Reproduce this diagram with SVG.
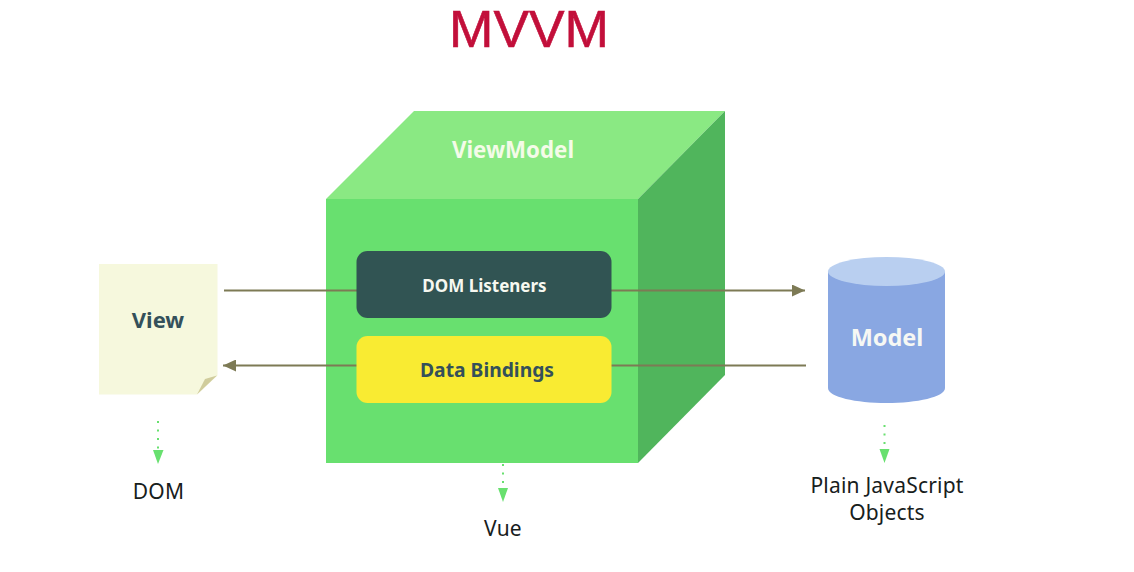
<svg xmlns="http://www.w3.org/2000/svg" width="1134" height="572" viewBox="0 0 1134 572">
<defs>
<marker id="olive" markerUnits="userSpaceOnUse" markerWidth="13" markerHeight="12" refX="13" refY="6" orient="auto"><path d="M0 0L13 6L0 12Z" fill="#7d7a55"/></marker>
</defs>
<style>
text{font-family:"Noto Sans","Open Sans",sans-serif;text-anchor:middle}
.b{font-weight:700}
.l{font-size:21px;fill:#17201c;letter-spacing:.2px}
.c{fill:none;stroke:#7d7a55;stroke-width:2}
.d{fill:none;stroke:#68e06f;stroke-width:2;stroke-dasharray:2 6.500}
.h{fill:#68e06f}
</style>
<rect width="1134" height="572" fill="#fff"/>
<text x="529" y="46.500" style="font-family:'Liberation Sans',sans-serif;font-size:52px;fill:#c20f3a;stroke:#c20f3a;stroke-width:.6" textLength="160" lengthAdjust="spacingAndGlyphs">MVVM</text>
<g id="viewmodel">
<path d="M326 199L414 111H725L638 199Z" fill="#8ae983"/>
<path d="M638 199L725 111V375L638 463Z" fill="#50b55c"/>
<rect x="326" y="199" width="312" height="264" fill="#68e06f"/>
<text class="b" x="513" y="157.500" font-size="22.300" fill="#f4fbe8">ViewModel</text>
</g>
<g id="connectors">
<path class="c" d="M224 290.500H357"/>
<path class="c" d="M611 290.500H805" marker-end="url(#olive)"/>
<path class="c" d="M806 365.500H611"/>
<path class="c" d="M357 365.500H223" marker-end="url(#olive)"/>
<path class="d" d="M158 421V450"/><path class="h" d="M153 450H163.500L158 464Z"/>
<path class="d" d="M503 464V488"/><path class="h" d="M498 488H508L503 502Z"/>
<path class="d" d="M884.500 425V449"/><path class="h" d="M879.500 449H889.500L884.500 463Z"/>
</g>
<g id="dom-listeners">
<rect x="356.500" y="251" width="255" height="67" rx="11" fill="#315453"/>
<text class="b" x="484.500" y="291.500" font-size="17" fill="#f6f8f0">DOM Listeners</text>
</g>
<g id="data-bindings">
<rect x="356.500" y="336" width="255" height="67" rx="11" fill="#f9eb32"/>
<text class="b" x="487" y="376.500" font-size="19.300" fill="#34505a">Data Bindings</text>
</g>
<g id="view">
<path d="M99 264H217.500V375.500L197 394.500H99Z" fill="#f6f8dd"/>
<path d="M197 394.500L205 379L217 375.500Z" fill="#d0cc9c"/>
<text class="b" x="158" y="328" font-size="22" fill="#34505a">View</text>
</g>
<g id="model">
<path d="M828 272V388C828 397 856 403 886.500 403S945 397 945 388V272Z" fill="#89a7e2"/>
<ellipse cx="886.500" cy="271.500" rx="58.500" ry="14.500" fill="#b9cff0"/>
<text class="b" x="887" y="346" font-size="23.500" fill="#f6f8f4">Model</text>
</g>
<text class="l" x="158.500" y="499">DOM</text>
<text class="l" x="503" y="536">Vue</text>
<text class="l" x="887" y="493">Plain JavaScript</text>
<text class="l" x="887" y="520">Objects</text>
</svg>
